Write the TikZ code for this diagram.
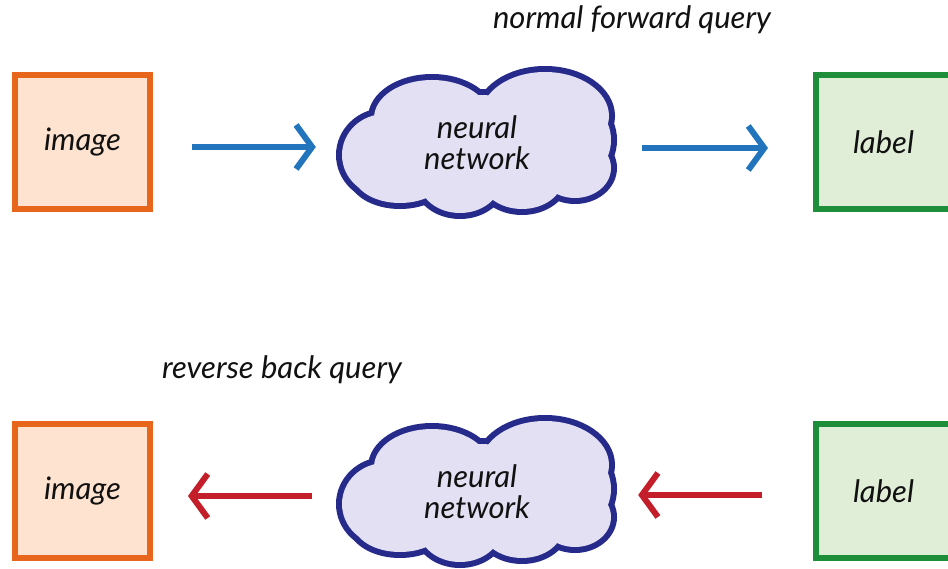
\documentclass[tikz,border=0pt]{standalone}
\usepackage{fontspec}
\setmainfont{Lato}
\usetikzlibrary{arrows.meta}
\definecolor{imgborder}{HTML}{E8661C}
\definecolor{imgfill}{HTML}{FDE3D0}
\definecolor{labborder}{HTML}{1F8E3A}
\definecolor{labfill}{HTML}{E0EED8}
\definecolor{cloudborder}{HTML}{262A8A}
\definecolor{cloudfill}{HTML}{E2E0F2}
\definecolor{fwdblue}{HTML}{2275BD}
\definecolor{backred}{HTML}{C41E2A}
\definecolor{textcol}{HTML}{111111}
\tikzset{
  handfont/.style={font=\itshape\fontsize{31}{31}\selectfont, text=textcol},
  nncloud/.pic={
    \foreach \cx/\cy/\rx/\ry in {-45/-25/58/38, 68/-27/64/44, -92/12/43/41, -77/32/46/28, -17/37/41/33, 45/35/41/31, 98/25/36/30, 93/-3/41/42, 0/2/100/50}{
      \draw[cloudborder, line width=12pt] (\cx,\cy) ellipse[x radius=\rx pt, y radius=\ry pt];
    }
    \foreach \cx/\cy/\rx/\ry in {-45/-25/58/38, 68/-27/64/44, -92/12/43/41, -77/32/46/28, -17/37/41/33, 45/35/41/31, 98/25/36/30, 93/-3/41/42, 0/2/100/50}{
      \fill[cloudfill] (\cx,\cy) ellipse[x radius=\rx pt, y radius=\ry pt];
    }
  }
}
\begin{document}
\begin{tikzpicture}[x=1pt,y=-1pt,
  box/.style={draw, line width=6pt, minimum width=135pt, minimum height=134pt, inner sep=0pt, handfont},
  imgbox/.style={box, draw=imgborder, fill=imgfill},
  labbox/.style={box, draw=labborder, fill=labfill},
  nntext/.style={minimum width=280pt, minimum height=150pt, inner sep=0pt, align=center, handfont},
  caption/.style={handfont},
  fwd/.style={draw=fwdblue, line width=6pt, -{Straight Barb[length=16pt,width=44pt,line width=6pt]}},
  back/.style={draw=backred, line width=6pt, -{Straight Barb[length=16pt,width=44pt,line width=6pt]}}
]
\clip (0,0) rectangle (948,569);
\fill[white] (0,0) rectangle (948,569);

% top row
\node[imgbox] (img1) at (82.5,142) {image};
\pic at (477,143) {nncloud};
\node[nntext] (nn1) at (477,143) {neural\\network};
\node[labbox] (lab1) at (883.5,142) {label};
\node[caption] (cap1) at (632,20) {normal forward query};

\draw[fwd, shorten <=39pt, shorten >=21pt] ([yshift=-5pt]img1.east) -- ([yshift=-5pt]img1.east -| nn1.west);
\draw[fwd, shorten <=25pt, shorten >=45pt] ([yshift=-5pt]nn1.east) -- ([yshift=-5pt]nn1.east -| lab1.west);

% bottom row
\node[imgbox] (img2) at (82.5,491) {image};
\pic at (477,492) {nncloud};
\node[nntext] (nn2) at (477,492) {neural\\network};
\node[labbox] (lab2) at (883.5,491) {label};
\node[caption] (cap2) at (282,370) {reverse back query};

\draw[back, shorten <=51pt, shorten >=21pt] ([yshift=-4pt]lab2.west) -- ([yshift=-4pt]lab2.west -| nn2.east);
\draw[back, shorten <=25pt, shorten >=35pt] ([yshift=-4pt]nn2.west) -- ([yshift=-4pt]nn2.west -| img2.east);
\end{tikzpicture}
\end{document}
